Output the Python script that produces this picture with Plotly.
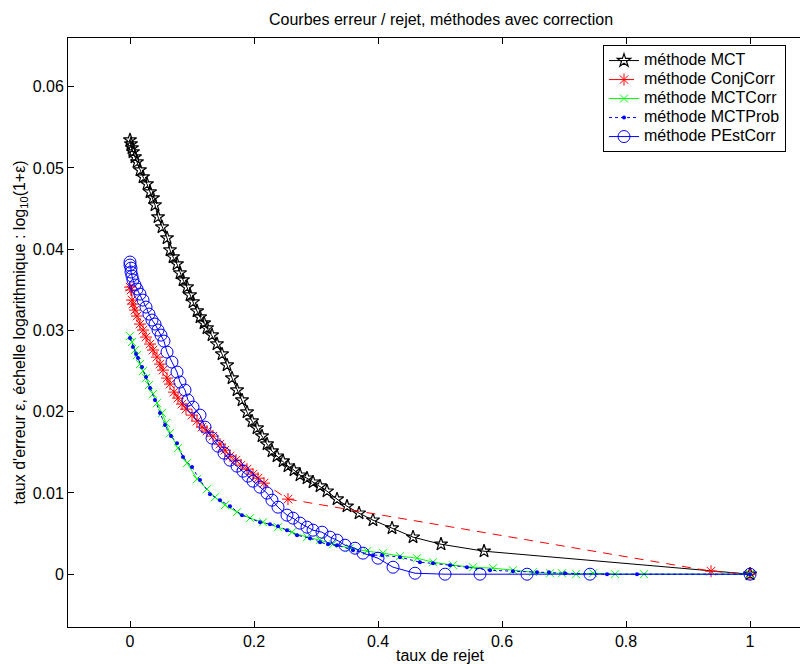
import plotly.graph_objects as go

# ---- data ----
mct_x = [0.0, 0.0016, 0.0032, 0.0048, 0.0081, 0.0113, 0.0161, 0.0210, 0.0274, 0.0323,
         0.0371, 0.0403, 0.0452, 0.0516, 0.0597, 0.0645, 0.0694, 0.0758, 0.0806, 0.0855,
         0.0919, 0.0968, 0.1016, 0.1081, 0.1129, 0.1194, 0.1242, 0.1323, 0.1403, 0.1484,
         0.1565, 0.1645, 0.1726, 0.1806, 0.1887, 0.1968, 0.2048, 0.2129, 0.2210, 0.2290,
         0.2371, 0.2468, 0.2548, 0.2645, 0.2742, 0.2855, 0.2952, 0.3065, 0.3177, 0.3339,
         0.3500, 0.3694, 0.3919, 0.4226, 0.4565, 0.5016, 0.5710, 1.0]
mct_y = [0.05345, 0.05296, 0.05246, 0.05197, 0.05135, 0.05074, 0.04975, 0.04889, 0.04803, 0.04704,
         0.04631, 0.04544, 0.04397, 0.04273, 0.04138, 0.03990, 0.03904, 0.03818, 0.03707, 0.03621,
         0.03534, 0.03436, 0.03350, 0.03239, 0.03165, 0.03091, 0.03030, 0.02943, 0.02833, 0.02709,
         0.02574, 0.02414, 0.02266, 0.02143, 0.01995, 0.01884, 0.01798, 0.01700, 0.01601, 0.01515,
         0.01453, 0.01392, 0.01330, 0.01281, 0.01219, 0.01182, 0.01133, 0.01084, 0.01022, 0.00924,
         0.00837, 0.00751, 0.00665, 0.00567, 0.00456, 0.00369, 0.00283, 0.0]

conj_x = [0.0, 0.0016, 0.0032, 0.0048, 0.0081, 0.0113, 0.0161, 0.0210, 0.0258, 0.0323,
          0.0371, 0.0435, 0.0484, 0.0532, 0.0597, 0.0645, 0.0710, 0.0774, 0.0839, 0.0903,
          0.1000, 0.1081, 0.1161, 0.1242, 0.1339, 0.1452, 0.1532, 0.1613, 0.1710, 0.1790,
          0.1887, 0.1984, 0.2065, 0.2161, 0.2548, 0.9371, 1.0]
conj_y = [0.03534, 0.03498, 0.03374, 0.03325, 0.03251, 0.03177, 0.03079, 0.03005, 0.02919, 0.02833,
          0.02759, 0.02672, 0.02586, 0.02512, 0.02414, 0.02340, 0.02241, 0.02167, 0.02094, 0.02032,
          0.01958, 0.01884, 0.01810, 0.01761, 0.01700, 0.01601, 0.01527, 0.01453, 0.01404, 0.01342,
          0.01293, 0.01232, 0.01182, 0.01121, 0.00924, 0.00037, 0.0]

mctcorr_x = [0.0, 0.0032, 0.0081, 0.0113, 0.0161, 0.0210, 0.0258, 0.0306, 0.0371, 0.0435,
             0.0516, 0.0581, 0.0645, 0.0774, 0.0919, 0.1081, 0.1242, 0.1371, 0.1532, 0.1726,
             0.1935, 0.2145, 0.2387, 0.2613, 0.2855, 0.3065, 0.3274, 0.3548, 0.3823, 0.4081,
             0.4355, 0.4629, 0.4887, 0.5210, 0.5532, 0.5855, 0.6177, 0.6500, 0.6774, 0.6968,
             0.7194, 0.7468, 0.7823, 0.8290, 1.0]
mctcorr_y = [0.02931, 0.02857, 0.02759, 0.02697, 0.02586, 0.02500, 0.02414, 0.02328, 0.02217, 0.02106,
             0.01983, 0.01860, 0.01736, 0.01552, 0.01367, 0.01170, 0.01047, 0.00948, 0.00850, 0.00764,
             0.00690, 0.00640, 0.00579, 0.00517, 0.00456, 0.00419, 0.00369, 0.00320, 0.00283, 0.00259,
             0.00222, 0.00197, 0.00148, 0.00111, 0.00086, 0.00074, 0.00049, 0.00025, 0.00012, 0.00012,
             0.0, 0.00012, 0.0, 0.0, 0.0]

mctprob_x = [0.0, 0.0048, 0.0097, 0.0129, 0.0194, 0.0258, 0.0323, 0.0403, 0.0484, 0.0565,
             0.0661, 0.0758, 0.0855, 0.1000, 0.1129, 0.1290, 0.1452, 0.1613, 0.1806, 0.2097,
             0.2258, 0.2387, 0.2532, 0.2694, 0.2903, 0.3065, 0.3194, 0.3339, 0.3597, 0.3919,
             0.4065, 0.4355, 0.4677, 0.4887, 0.5161, 0.5435, 0.5806, 0.6177, 0.6565, 0.6758,
             0.7016, 0.7694, 0.8177, 1.0]
mctprob_y = [0.02906, 0.02796, 0.02709, 0.02660, 0.02549, 0.02426, 0.02291, 0.02143, 0.01983, 0.01835,
             0.01700, 0.01613, 0.01441, 0.01318, 0.01158, 0.00985, 0.00911, 0.00837, 0.00727, 0.00640,
             0.00616, 0.00591, 0.00542, 0.00480, 0.00443, 0.00394, 0.00369, 0.00357, 0.00296, 0.00234,
             0.00234, 0.00209, 0.00148, 0.00135, 0.00111, 0.00086, 0.00049, 0.00037, 0.00025, 0.00025,
             0.00012, 0.0, 0.0, 0.0]

pest_x = [0.0, 0.0, 0.0016, 0.0016, 0.0032, 0.0048, 0.0081, 0.0113, 0.0161, 0.0210,
          0.0258, 0.0306, 0.0355, 0.0403, 0.0452, 0.0500, 0.0548, 0.0597, 0.0677, 0.0758,
          0.0806, 0.0887, 0.0935, 0.1016, 0.1129, 0.1210, 0.1323, 0.1419, 0.1516, 0.1613,
          0.1726, 0.1823, 0.1903, 0.1984, 0.2097, 0.2210, 0.2290, 0.2387, 0.2532, 0.2629,
          0.2742, 0.2855, 0.2952, 0.3097, 0.3226, 0.3339, 0.3468, 0.3629, 0.3758, 0.4000,
          0.4242, 0.4597, 0.5081, 0.5645, 0.6403, 0.7419, 1.0]
pest_y = [0.03842, 0.03805, 0.03768, 0.03719, 0.03670, 0.03621, 0.03559, 0.03510, 0.03448, 0.03374,
          0.03288, 0.03202, 0.03128, 0.03079, 0.03005, 0.02943, 0.02869, 0.02734, 0.02611, 0.02488,
          0.02365, 0.02266, 0.02143, 0.02057, 0.01958, 0.01810, 0.01675, 0.01576, 0.01490, 0.01404,
          0.01330, 0.01268, 0.01207, 0.01145, 0.01071, 0.00998, 0.00911, 0.00825, 0.00727, 0.00690,
          0.00628, 0.00579, 0.00542, 0.00517, 0.00456, 0.00419, 0.00357, 0.00320, 0.00259, 0.00197,
          0.00086, 0.00012, 0.0, 0.0, 0.0, 0.0, 0.0]

series_names = ["méthode MCT", "méthode ConjCorr", "méthode MCTCorr", "méthode MCTProb", "méthode PEstCorr"]

x_ticks = [0, 0.2, 0.4, 0.6, 0.8, 1]
x_tick_labels = ["0", "0.2", "0.4", "0.6", "0.8", "1"]
y_ticks = [0, 0.01, 0.02, 0.03, 0.04, 0.05, 0.06]
y_tick_labels = ["0", "0.01", "0.02", "0.03", "0.04", "0.05", "0.06"]

FONT = "Liberation Sans, Arial, Helvetica, sans-serif"
FS = 16


def lg(name):
    # bigger visible text, compact legend row height
    return "<span style='font-size:16px'>" + name + "</span>"


fig = go.Figure()
fig.add_trace(go.Scatter(x=mct_x, y=mct_y, name=lg(series_names[0]), mode="lines+markers",
                         line=dict(color="black", width=1),
                         marker=dict(symbol="star-open", size=10, color="black", line=dict(width=1.2))))
fig.add_trace(go.Scatter(x=conj_x, y=conj_y, name=lg(series_names[1]), mode="lines+markers",
                         line=dict(color="red", width=1, dash="9px,7px"),
                         marker=dict(symbol="asterisk-open", size=10, color="red", line=dict(width=1, color="red"))))
fig.add_trace(go.Scatter(x=mctcorr_x, y=mctcorr_y, name=lg(series_names[2]), mode="lines+markers",
                         line=dict(color="#00ff00", width=1),
                         marker=dict(symbol="x-thin-open", size=8, color="#00ff00", line=dict(width=1, color="#00ff00"))))
fig.add_trace(go.Scatter(x=mctprob_x, y=mctprob_y, name=lg(series_names[3]), mode="lines+markers",
                         line=dict(color="blue", width=1, dash="dot"),
                         marker=dict(symbol="circle", size=4, color="blue")))
fig.add_trace(go.Scatter(x=pest_x, y=pest_y, name=lg(series_names[4]), mode="lines+markers",
                         line=dict(color="blue", width=1),
                         marker=dict(symbol="circle-open", size=12, color="blue", line=dict(width=1, color="blue"))))

fig.update_layout(
    width=800, height=664,
    margin=dict(l=68, r=0, t=38, b=37),
    paper_bgcolor="white", plot_bgcolor="white",
    font=dict(family=FONT, size=FS, color="black"),
    showlegend=True,
    legend=dict(x=(603 - 68) / 732, y=0.988, xanchor="left", yanchor="top",
                bgcolor="white", bordercolor="black", borderwidth=1,
                font=dict(family=FONT, size=12), tracegroupgap=0, itemwidth=30),
    xaxis=dict(range=[-0.1, 1.0806], tickvals=x_ticks, ticktext=x_tick_labels,
               showgrid=False, zeroline=False, showline=True, linecolor="black", linewidth=1,
               mirror="ticks", ticks="inside", ticklen=6, tickcolor="black",
               tickfont=dict(family=FONT, size=FS)),
    yaxis=dict(range=[-0.0065, 0.0660], tickvals=y_ticks, ticktext=y_tick_labels,
               showgrid=False, zeroline=False, showline=True, linecolor="black", linewidth=1,
               mirror=False, ticks="inside", ticklen=6, tickcolor="black",
               tickfont=dict(family=FONT, size=FS)),
)

fig.add_annotation(text="Courbes erreur / rejet, méthodes avec correction",
                   xref="paper", yref="paper", x=(441 - 68) / 732, y=1 + 18 / 589,
                   xanchor="center", yanchor="middle", showarrow=False,
                   font=dict(family=FONT, size=FS))
fig.add_annotation(text="taux de rejet",
                   xref="paper", yref="paper", x=(441 - 68) / 732, y=-28 / 589,
                   xanchor="center", yanchor="middle", showarrow=False,
                   font=dict(family=FONT, size=FS))
fig.add_annotation(text="taux d'erreur ε, échelle logarithmique : log<sub>10</sub>(1+ε)",
                   xref="paper", yref="paper", x=-48 / 732, y=0.5, textangle=-90,
                   xanchor="center", yanchor="middle", showarrow=False,
                   font=dict(family=FONT, size=FS))

fig.write_html("out.html")
